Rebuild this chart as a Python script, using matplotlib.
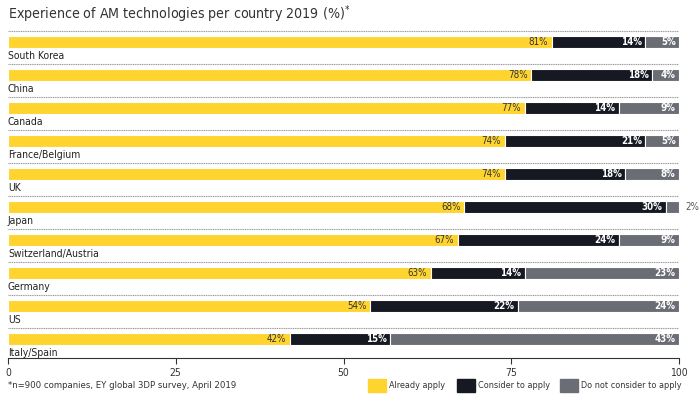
import matplotlib.pyplot as plt
from matplotlib.patches import Rectangle

plt.rcParams['font.family'] = ['DejaVu Sans']
plt.rcParams['font.stretch'] = 'condensed'

countries = ["South Korea", "China", "Canada", "France/Belgium", "UK", "Japan",
             "Switzerland/Austria", "Germany", "US", "Italy/Spain"]
already = [81, 78, 77, 74, 74, 68, 67, 63, 54, 42]
consider = [14, 18, 14, 21, 18, 30, 24, 14, 22, 15]
not_consider = [5, 4, 9, 5, 8, 2, 9, 23, 24, 43]

yellow = "#FFD42F"
dark = "#161822"
grey = "#6A6D74"

fig = plt.figure(figsize=(7, 4), dpi=100)
ax = fig.add_axes([8 / 700, 42 / 400, 671 / 700, 328 / 400])

y = list(range(len(countries)))
h = 0.38
ax.barh(y, already, height=h, color=yellow, edgecolor="white", linewidth=0.8)
ax.barh(y, consider, left=already, height=h, color=dark, edgecolor="white", linewidth=0.8)
left3 = [a + c for a, c in zip(already, consider)]
ax.barh(y, not_consider, left=left3, height=h, color=grey, edgecolor="white", linewidth=0.8)

for i, name in enumerate(countries):
    ax.axhline(i - 0.33, color="#999999", lw=0.8, ls=(0, (1, 0.6)))
    ax.text(0, i + 0.44, name, ha="left", va="center", fontsize=7.5, color="#222222")
    a, c, n = already[i], consider[i], not_consider[i]
    ax.text(a - 0.5, i, f"{a}%", ha="right", va="center", fontsize=7, color="#333333")
    ax.text(a + c - 0.5, i, f"{c}%", ha="right", va="center", fontsize=7,
            color="white", fontweight="bold")
    if n >= 4:
        ax.text(100 - 0.5, i, f"{n}%", ha="right", va="center", fontsize=7,
                color="white", fontweight="bold")
    else:
        ax.text(101, i, f"{n}%", ha="left", va="center", fontsize=7, color="#555555")

ax.set_xlim(0, 100)
ax.set_ylim(9.58, -0.36)
ax.set_yticks([])
ax.set_xticks([0, 25, 50, 75, 100])
ax.tick_params(axis="x", length=4, labelsize=7.5, colors="#333333", width=0.8)
for s in ["top", "left", "right"]:
    ax.spines[s].set_visible(False)
ax.spines["bottom"].set_color("#333333")

fig.text(8 / 700, 1 - 14 / 400, "Experience of AM technologies per country 2019 (%)$^{*}$",
         ha="left", va="center", fontsize=10.2, color="#333333")

fig.text(8 / 700, 1 - 386 / 400, "*n=900 companies, EY global 3DP survey, April 2019",
         ha="left", va="center", fontsize=6.8, color="#333333")

legend_items = [(368, yellow, "Already apply"), (457, dark, "Consider to apply"),
                (560, grey, "Do not consider to apply")]
for x0, col, lab in legend_items:
    fig.patches.append(Rectangle((x0 / 700, 1 - 392 / 400), 18 / 700, 13 / 400,
                                 transform=fig.transFigure, color=col))
    fig.text((x0 + 21) / 700, 1 - 386 / 400, lab, ha="left", va="center",
             fontsize=6.5, color="#333333")

fig.savefig("out.png", dpi=100)
